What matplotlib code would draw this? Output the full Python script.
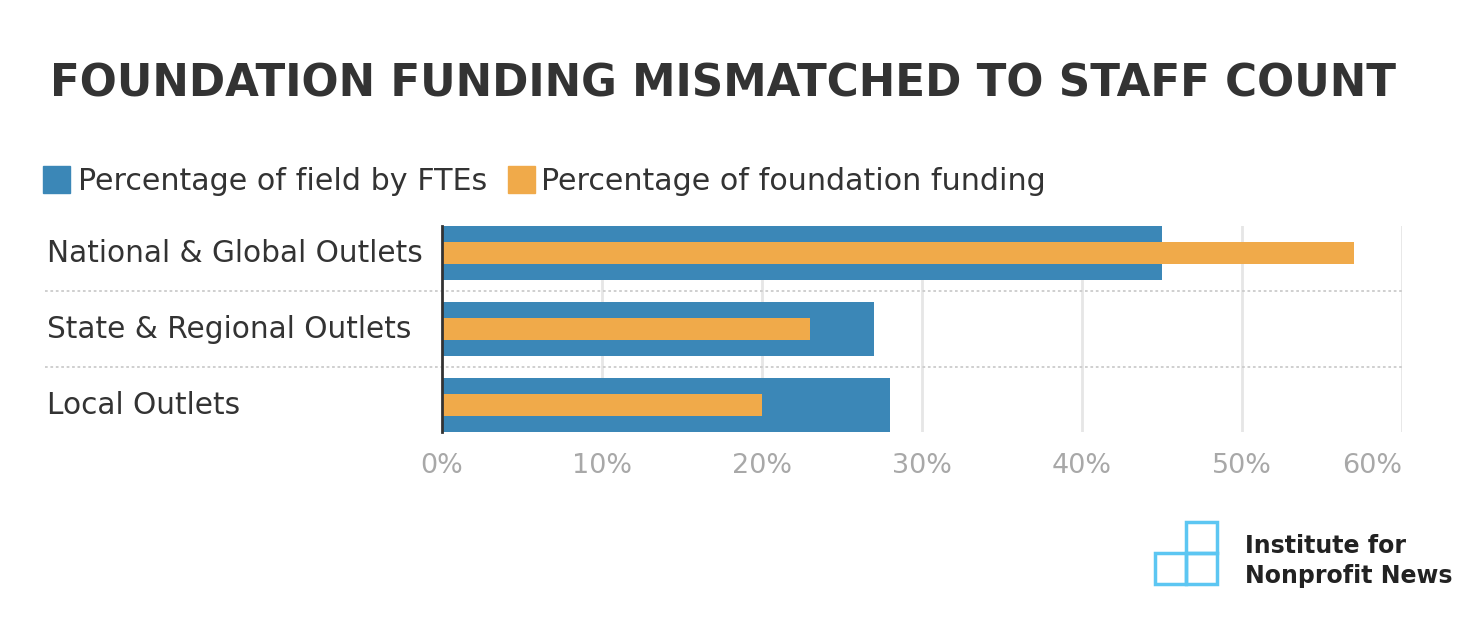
import matplotlib.pyplot as plt
from matplotlib.patches import Rectangle
import matplotlib.transforms as mtransforms

# data
categories = ['National & Global Outlets', 'State & Regional Outlets', 'Local Outlets']
fte_share = [45, 27, 28]
funding_share = [57, 23, 20]
series_names = ['Percentage of field by FTEs', 'Percentage of foundation funding']
ticks = [0, 10, 20, 30, 40, 50, 60]

BLUE = '#3b87b7'
ORANGE = '#f0aa4a'
DARK = '#333333'
GRAY = '#a8a8a8'
LOGO = '#5cc6f2'
FONT = 'DejaVu Sans'

W, H = 1474, 620
fig = plt.figure(figsize=(W / 100, H / 100), dpi=100)
fig.patch.set_facecolor('white')
renderer = fig.canvas.get_renderer()


def px(x, y):
    # pixel coords from top-left -> figure fraction
    return x / W, 1 - y / H


def size_for(s, width, **kw):
    t = fig.text(0, 0, s, fontsize=20, family=FONT, **kw)
    w = t.get_window_extent(renderer=renderer).width
    t.remove()
    return 20 * width / w


ax = fig.add_axes([442 / W, (H - 432) / H, (1402 - 442) / W, (432 - 226) / H])
ypos = list(range(len(categories)))
ax.barh(ypos, fte_share, height=54 / 76, color=BLUE, zorder=2)
ax.barh(ypos, funding_share, height=22 / 76, color=ORANGE, zorder=3)
ax.set_xlim(0, 60)
ax.set_ylim(2 + 27 / 76, -27 / 76)

for s in ['top', 'right', 'bottom']:
    ax.spines[s].set_visible(False)
ax.spines['left'].set_color(DARK)
ax.spines['left'].set_linewidth(2)
ax.spines['left'].set_zorder(4)

tick_labels = ['{}%'.format(t) for t in ticks]
ax.set_xticks(ticks)
ax.set_xticklabels(tick_labels)
ax.tick_params(axis='x', length=0, pad=15, labelsize=size_for(tick_labels[-1], 60),
               labelcolor=GRAY)
ax.tick_params(axis='y', length=0)
ax.set_yticks([])
for lab in ax.get_xticklabels():
    lab.set_fontfamily(FONT)
# last label kept inside the plot edge
ax.get_xticklabels()[-1].set_horizontalalignment('right')
for t in ticks[1:]:
    ax.axvline(t, color='#e6e6e6', lw=2, zorder=1)

# dotted separators reaching to the labels
trans = mtransforms.blended_transform_factory(fig.transFigure, ax.transData)
for yv in [0.5, 1.5]:
    ax.plot([45 / W, 1402 / W], [yv, yv], transform=trans, color='#cccccc',
            lw=1.3, ls=(0, (1.5, 1.5)), clip_on=False, zorder=1)

# category labels
cat_size = size_for(categories[0], 376)
for i, c in enumerate(categories):
    fig.text(47 / W, px(0, 253 + 76 * i)[1], c, fontsize=cat_size, color=DARK,
             family=FONT, va='center', ha='left')

# title
title = 'FOUNDATION FUNDING MISMATCHED TO STAFF COUNT'
fig.text(*px(50, 84), title, fontsize=size_for(title, 1342, fontweight='bold'),
         fontweight='bold', family=FONT, color=DARK, va='center')

# legend
leg_size = size_for(series_names[0], 409)
for (x0, col, name, tx) in [(43, BLUE, series_names[0], 78), (508, ORANGE, series_names[1], 541)]:
    fig.patches.append(Rectangle(px(x0, 193), 27 / W, 27 / H, transform=fig.transFigure,
                                 color=col))
    fig.text(*px(tx, 181), name, fontsize=leg_size, color=DARK, family=FONT, va='center')

# logo
for (lx, ly) in [(1186, 522), (1155, 553), (1186, 553)]:
    fig.patches.append(Rectangle(px(lx, ly + 30.5), 31 / W, 30.5 / H, transform=fig.transFigure,
                                 fill=False, edgecolor=LOGO, lw=2.5))
logo_size = size_for('Nonprofit News', 207, fontweight='bold')
fig.text(*px(1245, 546), 'Institute for', fontsize=logo_size, fontweight='bold',
         family=FONT, color='#222222', va='center')
fig.text(*px(1245, 576), 'Nonprofit News', fontsize=logo_size, fontweight='bold',
         family=FONT, color='#222222', va='center')

fig.savefig('out.png', dpi=100, facecolor='white')
